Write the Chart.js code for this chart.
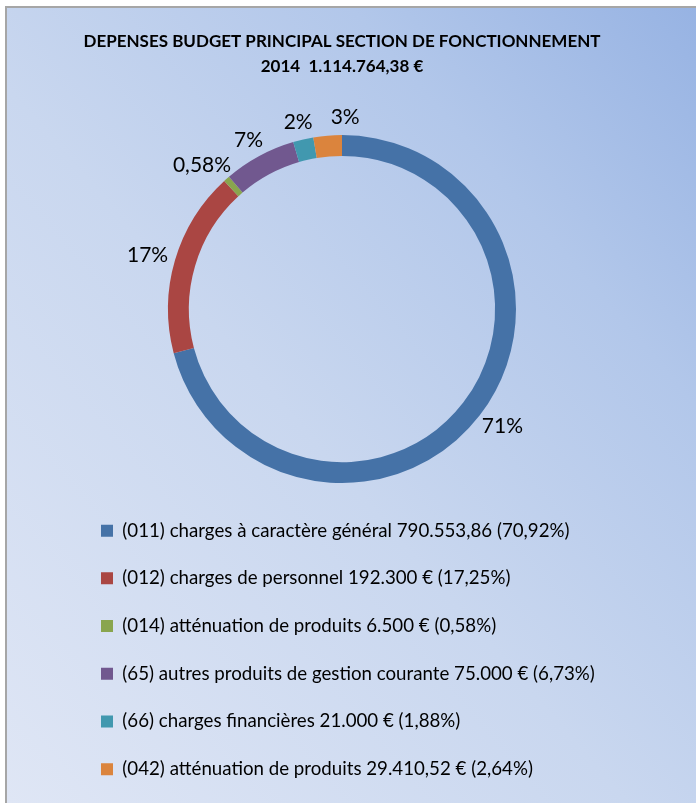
<!DOCTYPE html>
<html>
<head>
<meta charset="utf-8">
<script src="https://cdn.jsdelivr.net/npm/chart.js@4.4.0/dist/chart.umd.min.js"></script>
<style>
  body { margin: 0; background: #fff; }
  #frame {
    position: absolute; left: 5px; top: 6px; width: 689px; height: 795px;
    border-left: 2px solid #a6a6a6; border-top: 2px solid #a6a6a6;
    background: linear-gradient(to top right, #dfe6f5 0%, #c9d7ef 45%, #b2c7ea 75%, #97b3e3 100%);
  }
  #myChart { display: block; }
</style>
</head>
<body>
<div id="frame">
  <canvas id="myChart" width="689" height="795"></canvas>
</div>
<script>
const ctx = document.getElementById('myChart');

// data
const categories = [
  '(011) charges à caractère général 790.553,86 (70,92%)',
  '(012) charges de personnel 192.300 € (17,25%)',
  '(014) atténuation de produits 6.500 € (0,58%)',
  '(65) autres produits de gestion courante 75.000 € (6,73%)',
  '(66) charges financières 21.000 € (1,88%)',
  '(042) atténuation de produits 29.410,52 € (2,64%)'
];
const amounts = [790553.86, 192300, 6500, 75000, 21000, 29410.52];
const pctLabels = ['71%', '17%', '0,58%', '7%', '2%', '3%'];
const colors = ['#4572a7', '#aa4643', '#89a54e', '#71588f', '#4198af', '#db843d'];
const titleLines = ['DEPENSES BUDGET PRINCIPAL SECTION DE FONCTIONNEMENT', '2014  1.114.764,38 €'];

// draws the percent labels just outside the ring, pushing a label right if it hits the previous one
const outsideLabels = {
  id: 'outsideLabels',
  afterDatasetsDraw(chart) {
    const c = chart.ctx;
    const meta = chart.getDatasetMeta(0);
    c.save();
    c.font = '21px Lato';
    c.fillStyle = '#000';
    c.textAlign = 'center';
    c.textBaseline = 'middle';
    let prev = null;
    meta.data.forEach((arc, i) => {
      const mid = (arc.startAngle + arc.endAngle) / 2;
      const cos = Math.cos(mid), sin = Math.sin(mid);
      const r = arc.outerRadius + 8;
      const w = c.measureText(pctLabels[i]).width;
      let x = arc.x + r * cos + cos * w / 2;
      const y = arc.y + r * sin + sin * 10;
      if (prev && Math.abs(prev.y - y) < 22 && x - w / 2 < prev.right + 18) {
        x = prev.right + 18 + w / 2;
      }
      c.fillText(pctLabels[i], x, y);
      prev = { right: x + w / 2, y: y };
    });
    c.restore();
  }
};

let myChart = new Chart(ctx, {
  type: 'doughnut',
  data: {
    labels: categories,
    datasets: [{
      data: amounts,
      backgroundColor: colors,
      borderWidth: 0,
      radius: 174,
      cutout: '88%'
    }]
  },
  plugins: [outsideLabels],
  options: {
    responsive: false,
    animation: false,
    layout: {
      padding: { left: 65, right: 84, top: 0, bottom: 14.5 }
    },
    plugins: {
      tooltip: { enabled: false },
      title: {
        display: true,
        text: titleLines,
        color: '#000',
        font: { family: 'Lato', size: 17, weight: 'bold', lineHeight: 1.45 },
        padding: { top: 21.5, bottom: 47 }
      },
      legend: {
        position: 'bottom',
        align: 'start',
        labels: {
          color: '#000',
          boxWidth: 12,
          boxHeight: 12,
          padding: 29,
          font: { family: 'Lato', size: 18.7 }
        }
      }
    }
  }
});
</script>
</body>
</html>
